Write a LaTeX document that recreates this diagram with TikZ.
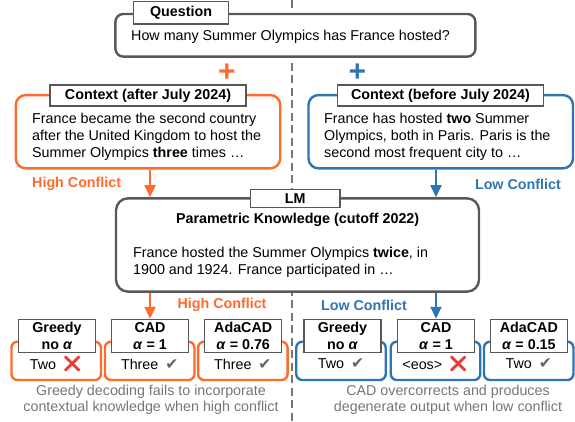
\documentclass[tikz,border=0pt]{standalone}
\usepackage{fontspec}
\setmainfont{Liberation Sans}
\newfontfamily\symfont{DejaVu Sans}
\newfontfamily\emojifont{Noto Emoji}
\usepackage{tikz}
\usepackage{xcolor}
\usetikzlibrary{positioning, arrows.meta}
\definecolor{ctxorange}{RGB}{255, 107, 44}
\definecolor{ctxblue}{RGB}{46, 117, 182}
\definecolor{boxgray}{RGB}{88, 88, 88}
\definecolor{capgray}{RGB}{118, 118, 118}
\definecolor{markgray}{RGB}{100, 100, 100}
\definecolor{crossred}{RGB}{234, 62, 56}
\newcommand{\bodyfont}{\fontsize{14.3}{17.3}\selectfont}
\newcommand{\okmark}{\hspace{7pt}{\symfont\fontsize{15.5}{15.5}\selectfont\color{markgray}✔}}
\newcommand{\badmark}{\hspace{6pt}{\emojifont\fontsize{16}{16}\selectfont\color{crossred}❌}}
\newcommand{\alphab}{\textbf{\textit{α}}}
\tikzset{
    basebox/.style={rounded corners=10pt, line width=2.4pt, fill=white, inner sep=0pt},
    graybox/.style={basebox, draw=boxgray},
    orangebox/.style={basebox, draw=ctxorange},
    bluebox/.style={basebox, draw=ctxblue},
    tagbox/.style={draw=boxgray, line width=1.1pt, fill=white, font=\bodyfont\bfseries, inner sep=0pt, align=center},
    bodytext/.style={font=\bodyfont, align=left, inner sep=0pt},
    conflict/.style={font=\bodyfont\bfseries, inner sep=0pt},
    plussign/.style={font=\fontsize{30}{30}\selectfont\bfseries, inner sep=0pt},
    flow/.style={line width=2pt, -{Triangle[length=12pt, width=11pt]}},
    smallbox/.style={rounded corners=6pt, line width=2.4pt, fill=white, minimum width=89.5pt, minimum height=38.3pt},
    smalltag/.style={tagbox, minimum width=77pt, minimum height=33.4pt, font=\fontsize{14.3}{17}\selectfont\bfseries},
    caption/.style={font=\fontsize{14.3}{16}\selectfont, text=capgray, align=center, inner sep=0pt}
}
\begin{document}
\begin{tikzpicture}[x=1pt, y=-1pt]
    \useasboundingbox (0,0) rectangle (575,421);
    % divider
    \coordinate (dividertop) at (292,0);
    \coordinate (dividerbottom) at (292,421);
    \draw[capgray, line width=1.2pt, dash pattern=on 8pt off 4.5pt] (dividertop) -- (dividerbottom);

    % question
    \node[graybox, rounded corners=8pt, minimum width=360pt, minimum height=42.7pt] (question) at (295.4,35.3) {};
    \node[tagbox, minimum width=95.5pt, minimum height=22.3pt] (questiontag) at (181,12.8) {Question};
    \node[bodytext, anchor=west] (questiontext) at (131,36.7) {How many Summer Olympics has France hosted?};

    \node[plussign, text=ctxorange] (plusafter) at (227,72.7) {+};
    \node[plussign, text=ctxblue] (plusbefore) at (357.5,72.7) {+};

    % contexts
    \node[orangebox, minimum width=264.5pt, minimum height=73.3pt] (ctxafter) at (148,131.7) {};
    \node[tagbox, minimum width=196pt, minimum height=21pt] (ctxaftertag) at (148,95.5) {Context (after July 2024)};
    \node[bodytext, anchor=west] (ctxaftertext) at (32,136.7) {France became the second country\\after the United Kingdom to host the\\Summer Olympics \textbf{three} times …};

    \node[bluebox, minimum width=264.5pt, minimum height=73.3pt] (ctxbefore) at (440.75,131.7) {};
    \node[tagbox, minimum width=206.7pt, minimum height=21pt] (ctxbeforetag) at (440.4,95.5) {Context (before July 2024)};
    \node[bodytext, anchor=west] (ctxbeforetext) at (324,136.7) {France has hosted \textbf{two} Summer\\Olympics, both in Paris. Paris is the\\second most frequent city to …};

    \node[conflict, text=ctxorange, anchor=west] (highin) at (32,184) {High Conflict};
    \node[conflict, text=ctxblue, anchor=east] (lowin) at (561,184) {Low Conflict};

    % LM
    \node[graybox, rounded corners=12pt, minimum width=363pt, minimum height=93.3pt] (lm) at (297.5,245) {};
    \node[tagbox, minimum width=89.4pt, minimum height=18.3pt] (lmtag) at (295.3,198.2) {LM};
    \node[conflict] (parametric) at (297.6,220) {Parametric Knowledge (cutoff 2022)};
    \node[bodytext, anchor=west, font=\fontsize{14.3}{17.7}\selectfont] (lmtext) at (133,262.2) {France hosted the Summer Olympics \textbf{twice}, in\\1900 and 1924. France participated in …};

    \node[conflict, text=ctxorange] (highout) at (222,305) {High Conflict};
    \node[conflict, text=ctxblue] (lowout) at (364,305) {Low Conflict};

    % decoding results, high conflict
    \node[smallbox, draw=ctxorange] (greedyhigh) at (56.2,360.85) {};
    \node[smalltag] (greedyhightag) at (57,336) {Greedy\\no \alphab};
    \node[bodytext] (greedyhighout) at (56.2,364) {Two\badmark};

    \node[smallbox, draw=ctxorange] (cadhigh) at (149.7,360.85) {};
    \node[smalltag] (cadhightag) at (150,336) {CAD\\\alphab{} = 1};
    \node[bodytext] (cadhighout) at (149.7,364) {Three\okmark};

    \node[smallbox, draw=ctxorange] (adahigh) at (242.8,360.85) {};
    \node[smalltag] (adahightag) at (243.2,336) {AdaCAD\\\alphab{} = 0.76};
    \node[bodytext] (adahighout) at (242.8,364) {Three\okmark};

    % decoding results, low conflict
    \node[smallbox, draw=ctxblue] (greedylow) at (341,360.85) {};
    \node[smalltag] (greedylowtag) at (342.5,336) {Greedy\\no \alphab};
    \node[bodytext] (greedylowout) at (341,364) {Two\okmark};

    \node[smallbox, draw=ctxblue] (cadlow) at (435.5,360.85) {};
    \node[smalltag] (cadlowtag) at (436,336) {CAD\\\alphab{} = 1};
    \node[bodytext] (cadlowout) at (435.5,364) {<eos>\badmark};

    \node[smallbox, draw=ctxblue] (adalow) at (528.7,360.85) {};
    \node[smalltag] (adalowtag) at (528.9,336) {AdaCAD\\\alphab{} = 0.15};
    \node[bodytext] (adalowout) at (528.7,364) {Two\okmark};

    % arrows
    \draw[flow, ctxorange] (ctxafter.south -| cadhightag.north) -- (lm.north -| cadhightag.north);
    \draw[flow, ctxblue] (ctxbefore.south -| cadlowtag.north) -- (lm.north -| cadlowtag.north);
    \draw[flow, ctxorange] (lm.south -| cadhightag.north) -- (cadhightag.north);
    \draw[flow, ctxblue] (lm.south -| cadlowtag.north) -- (cadlowtag.north);

    % captions
    \node[caption] (captionhigh) at (151,400) {Greedy decoding fails to incorporate\\contextual knowledge when high conflict};
    \node[caption] (captionlow) at (448,400) {CAD overcorrects and produces\\degenerate output when low conflict};
\end{tikzpicture}
\end{document}
